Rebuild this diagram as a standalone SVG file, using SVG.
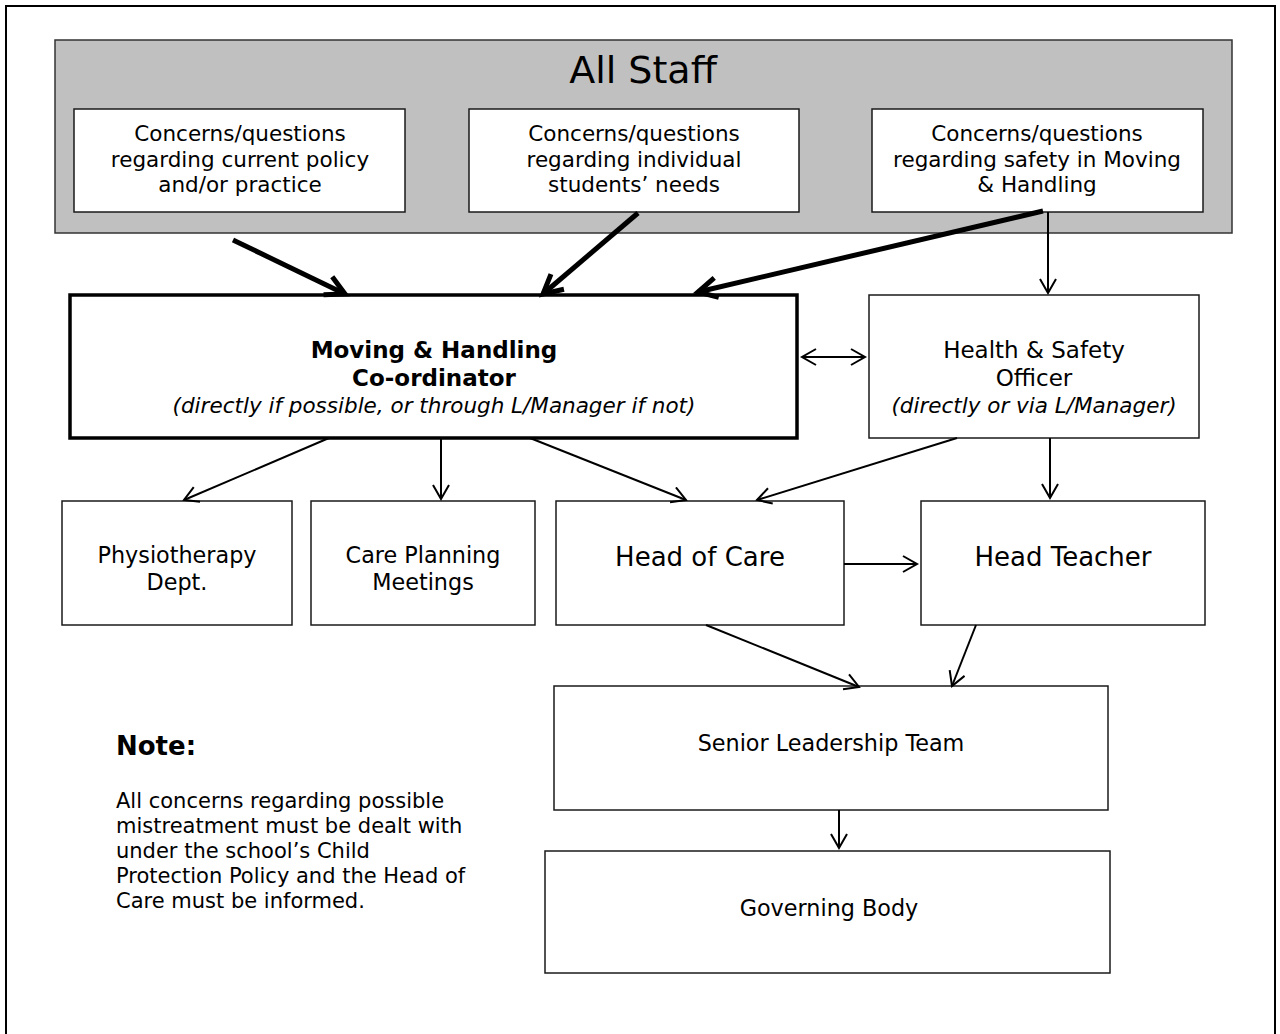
<svg xmlns="http://www.w3.org/2000/svg" width="1280" height="1034" viewBox="0 0 1280 1034">
<style>
text{font-family:"DejaVu Sans","Liberation Sans",sans-serif;fill:#000;text-anchor:middle}
.box{fill:#fff;stroke:#1a1a1a;stroke-width:1.5}
.t{font-size:21.5px}
.m{font-size:22.3px}
.big{font-size:26px}
.b{font-weight:bold;font-size:23px}
.i{font-style:italic}
.n{font-size:21px;text-anchor:start}
.thin{stroke:#000;stroke-width:2;fill:none}
.thick{stroke:#000;stroke-width:5;fill:none}
</style>
<defs>
<marker id="ah" markerUnits="userSpaceOnUse" markerWidth="20" markerHeight="20" refX="15" refY="9" orient="auto-start-reverse">
<path d="M1,1 L15,9 L1,17" fill="none" stroke="#000" stroke-width="2"/>
</marker>
<marker id="ahk" markerUnits="userSpaceOnUse" markerWidth="30" markerHeight="30" refX="22" refY="13" orient="auto">
<path d="M3,3 L22,13 L3,23" fill="none" stroke="#000" stroke-width="5"/>
</marker>
</defs>
<rect x="6" y="6" width="1269" height="1050" fill="#fff" stroke="#000" stroke-width="2"/>

<g id="all-staff">
<rect x="55" y="40" width="1177" height="193" fill="#c0c0c0" stroke="#333" stroke-width="1.5"/>
<text x="643" y="83" style="font-size:38px">All Staff</text>
</g>
<g id="concern-policy">
<rect class="box" x="74" y="109" width="331" height="103"/>
<text class="t" x="240" y="141">Concerns/questions</text>
<text class="t" x="240" y="167">regarding current policy</text>
<text class="t" x="240" y="192">and/or practice</text>
</g>
<g id="concern-students">
<rect class="box" x="469" y="109" width="330" height="103"/>
<text class="t" x="634" y="141">Concerns/questions</text>
<text class="t" x="634" y="167">regarding individual</text>
<text class="t" x="634" y="192">students’ needs</text>
</g>
<g id="concern-safety">
<rect class="box" x="872" y="109" width="331" height="103"/>
<text class="t" x="1037" y="141">Concerns/questions</text>
<text class="t" x="1037" y="167">regarding safety in Moving</text>
<text class="t" x="1037" y="192">&amp; Handling</text>
</g>
<g id="coordinator">
<rect x="70" y="295" width="727" height="143" fill="#fff" stroke="#000" stroke-width="3.5"/>
<text class="b" x="434" y="358">Moving &amp; Handling</text>
<text class="b" x="434" y="386">Co-ordinator</text>
<text class="t i" x="434" y="413">(directly if possible, or through L/Manager if not)</text>
</g>
<g id="hs-officer">
<rect class="box" x="869" y="295" width="330" height="143"/>
<text x="1034" y="358" style="font-size:23px">Health &amp; Safety</text>
<text x="1034" y="386" style="font-size:23px">Officer</text>
<text class="t i" x="1034" y="413">(directly or via L/Manager)</text>
</g>
<g id="physio">
<rect class="box" x="62" y="501" width="230" height="124"/>
<text class="m" x="177" y="563">Physiotherapy</text>
<text class="m" x="177" y="590">Dept.</text>
</g>
<g id="care-planning">
<rect class="box" x="311" y="501" width="224" height="124"/>
<text class="m" x="423" y="563">Care Planning</text>
<text class="m" x="423" y="590">Meetings</text>
</g>
<g id="head-care">
<rect class="box" x="556" y="501" width="288" height="124"/>
<text class="big" x="700" y="566">Head of Care</text>
</g>
<g id="head-teacher">
<rect class="box" x="921" y="501" width="284" height="124"/>
<text class="big" x="1063" y="566">Head Teacher</text>
</g>
<g id="slt">
<rect class="box" x="554" y="686" width="554" height="124"/>
<text class="m" x="831" y="751">Senior Leadership Team</text>
</g>
<g id="governing">
<rect class="box" x="545" y="851" width="565" height="122"/>
<text class="m" x="829" y="916">Governing Body</text>
</g>
<g id="note">
<text x="116" y="755" style="font-size:26px;font-weight:bold;text-anchor:start">Note:</text>
<text class="n" x="116" y="808">All concerns regarding possible</text>
<text class="n" x="116" y="833">mistreatment must be dealt with</text>
<text class="n" x="116" y="858">under the school’s Child</text>
<text class="n" x="116" y="883">Protection Policy and the Head of</text>
<text class="n" x="116" y="908">Care must be informed.</text>
</g>

<g id="connectors">
<line class="thick" x1="233" y1="240" x2="345" y2="294" marker-end="url(#ahk)"/>
<line class="thick" x1="638" y1="213" x2="543" y2="294" marker-end="url(#ahk)"/>
<line class="thick" x1="1043" y1="211" x2="698" y2="292" marker-end="url(#ahk)"/>
<line class="thin" x1="1048" y1="212" x2="1048" y2="293" marker-end="url(#ah)"/>
<line class="thin" x1="802" y1="357" x2="865" y2="357" marker-start="url(#ah)" marker-end="url(#ah)"/>
<line class="thin" x1="329" y1="438" x2="184" y2="500" marker-end="url(#ah)"/>
<line class="thin" x1="441" y1="438" x2="441" y2="499" marker-end="url(#ah)"/>
<line class="thin" x1="530" y1="438" x2="686" y2="500" marker-end="url(#ah)"/>
<line class="thin" x1="957" y1="438" x2="757" y2="500" marker-end="url(#ah)"/>
<line class="thin" x1="1050" y1="438" x2="1050" y2="498" marker-end="url(#ah)"/>
<line class="thin" x1="844" y1="564" x2="917" y2="564" marker-end="url(#ah)"/>
<line class="thin" x1="706" y1="625" x2="859" y2="687" marker-end="url(#ah)"/>
<line class="thin" x1="976" y1="625" x2="952" y2="686" marker-end="url(#ah)"/>
<line class="thin" x1="839" y1="810" x2="839" y2="848" marker-end="url(#ah)"/>
</g>
</svg>
